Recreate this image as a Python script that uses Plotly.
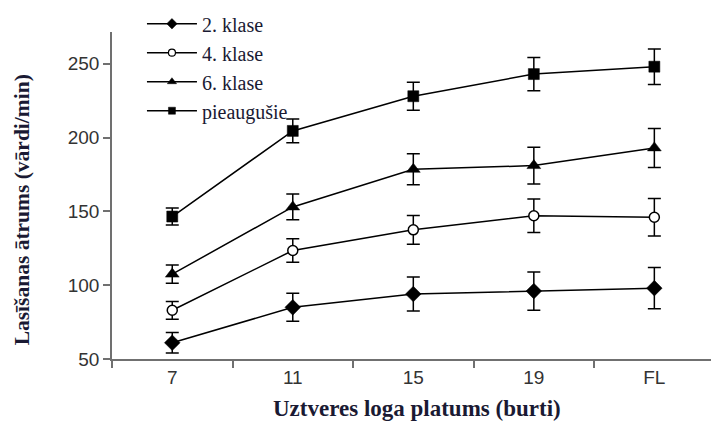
import plotly.graph_objects as go

# Perceptual span (letters) on the x axis, reading speed on the y axis
categories = ["7", "11", "15", "19", "FL"]

series_names = ["2. klase", "4. klase", "6. klase", "pieaugušie"]

grade2_mean = [61, 85, 94, 96, 98]
grade2_err = [7, 9.5, 11.5, 13, 14]

grade4_mean = [83, 123.5, 137.5, 147, 146]
grade4_err = [6, 8, 9.7, 11.3, 12.7]

grade6_mean = [107.5, 153, 178.5, 181, 193]
grade6_err = [6.2, 8.7, 10.5, 12.4, 13.2]

adult_mean = [146.5, 204.5, 228, 243, 248]
adult_err = [5.7, 8, 9.5, 11.3, 12]

y_ticks = [50, 100, 150, 200, 250]

means = [grade2_mean, grade4_mean, grade6_mean, adult_mean]
errors = [grade2_err, grade4_err, grade6_err, adult_err]

symbols = ["diamond", "circle", "triangle-up", "square"]
fills = ["black", "white", "black", "black"]
plot_sizes = [12, 10, 12, 11]
key_sizes = [8, 7, 8, 7]

fig = go.Figure()
for i, (name, m, e) in enumerate(zip(series_names, means, errors)):
    # data series with error bars
    fig.add_trace(go.Scatter(
        x=categories, y=m, name=name, mode="lines+markers",
        line=dict(color="black", width=1.5),
        marker=dict(symbol=symbols[i], size=plot_sizes[i], color=fills[i],
                    line=dict(color="black", width=1.5 if fills[i] == "white" else 0.5)),
        error_y=dict(type="data", array=e, visible=True, color="black",
                     thickness=1.5, width=6.5),
        showlegend=False, legendgroup=f"g{i}",
    ))
    # smaller symbol for the key
    fig.add_trace(go.Scatter(
        x=[None], y=[None], name=name, mode="lines+markers",
        line=dict(color="black", width=1.5),
        marker=dict(symbol=symbols[i], size=key_sizes[i], color=fills[i],
                    line=dict(color="black", width=1.2 if fills[i] == "white" else 0.5)),
        legendgroup=f"g{i}",
    ))

serif = "Liberation Serif, Times New Roman, serif"
sans = "Liberation Sans, Arial, sans-serif"
title_color = "#1a1a33"

fig.update_layout(
    width=711, height=442,
    margin=dict(l=112, r=0, t=32, b=83),
    paper_bgcolor="white", plot_bgcolor="white",
    showlegend=True,
    legend=dict(
        x=0.05, y=1.085, xanchor="left", yanchor="top",
        bgcolor="rgba(0,0,0,0)",
        font=dict(family=serif, size=20, color=title_color),
        traceorder="grouped", tracegroupgap=0,
        itemwidth=50,
    ),
    xaxis=dict(
        type="category", range=[-0.5, 4.47],
        showgrid=False, zeroline=False,
        showline=True, linecolor="#707070", linewidth=1.5,
        ticks="outside", ticklen=7, tickcolor="#707070", tickwidth=1.5,
        tickson="boundaries",
        tickfont=dict(family=sans, size=19, color="#333333"),
    ),
    yaxis=dict(
        range=[50, 271.5], tickvals=y_ticks,
        showgrid=False, zeroline=False,
        showline=True, linecolor="#707070", linewidth=1.5,
        ticks="outside", ticklen=7, tickcolor="#707070", tickwidth=1.5,
        tickfont=dict(family=sans, size=19, color="#333333"),
    ),
    annotations=[
        dict(text="<b>Uztveres loga platums (burti)</b>", xref="paper", yref="paper",
             x=0.51, y=-0.15, xanchor="center", yanchor="middle", showarrow=False,
             font=dict(family=serif, size=23, color=title_color)),
        dict(text="<b>Lasīšanas ātrums (vārdi/min)</b>", xref="paper", yref="paper",
             x=-0.15, y=0.455, xanchor="center", yanchor="middle", showarrow=False,
             textangle=-90, font=dict(family=serif, size=21.5, color=title_color)),
    ],
)

fig.write_html("out.html")
